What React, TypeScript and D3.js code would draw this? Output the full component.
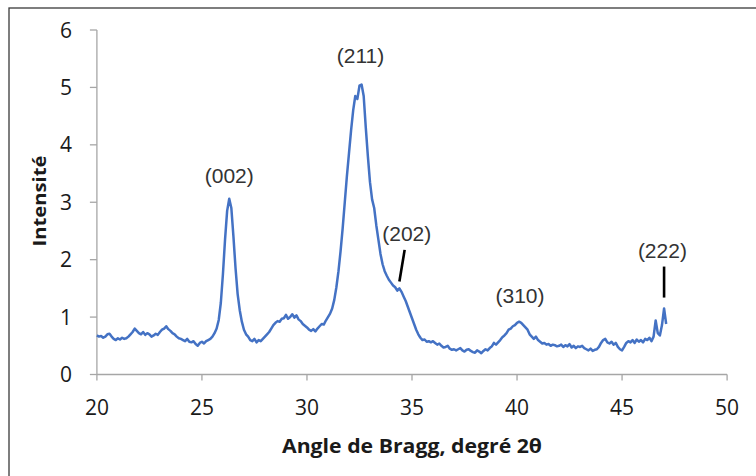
import React from "react";
import * as d3 from "d3";

// Sampling grid of the diffractogram (degrees 2θ)
const angleStart = 20.0;
const angleStep = 0.1;

// Intensities, one per 0.1° from 20.0° to 47.1°
const intensities: number[] = [
  // 20.0 - 20.9
  0.68, 0.66, 0.67, 0.64, 0.66, 0.70, 0.71, 0.66, 0.62, 0.60,
  // 21.0 - 21.9
  0.63, 0.61, 0.64, 0.62, 0.63, 0.66, 0.70, 0.74, 0.80, 0.76,
  // 22.0 - 22.9
  0.72, 0.70, 0.74, 0.69, 0.72, 0.70, 0.66, 0.68, 0.71, 0.69,
  // 23.0 - 23.9
  0.74, 0.78, 0.80, 0.84, 0.79, 0.76, 0.72, 0.70, 0.66, 0.63,
  // 24.0 - 24.9
  0.62, 0.60, 0.58, 0.62, 0.57, 0.56, 0.58, 0.53, 0.50, 0.55,
  // 25.0 - 25.9
  0.57, 0.54, 0.58, 0.60, 0.62, 0.66, 0.72, 0.80, 0.95, 1.25,
  // 26.0 - 26.9
  1.75, 2.35, 2.85, 3.06, 2.90, 2.40, 1.85, 1.40, 1.12, 0.92,
  // 27.0 - 27.9
  0.78, 0.70, 0.66, 0.60, 0.58, 0.62, 0.56, 0.60, 0.58, 0.62,
  // 28.0 - 28.9
  0.66, 0.70, 0.74, 0.80, 0.86, 0.90, 0.93, 0.92, 0.97, 0.98,
  // 29.0 - 29.9
  1.04, 0.97, 1.00, 1.05, 0.99, 1.03, 0.96, 0.93, 0.88, 0.85,
  // 30.0 - 30.9
  0.82, 0.78, 0.76, 0.79, 0.75, 0.80, 0.84, 0.88, 0.87, 0.94,
  // 31.0 - 31.9
  1.00, 1.06, 1.15, 1.30, 1.52, 1.80, 2.15, 2.55, 3.00, 3.45,
  // 32.0 - 32.9
  3.85, 4.25, 4.60, 4.85, 4.80, 5.03, 5.05, 4.85, 4.30, 3.80,
  // 33.0 - 33.9
  3.35, 3.05, 2.90, 2.60, 2.35, 2.10, 1.92, 1.80, 1.72, 1.65,
  // 34.0 - 34.9
  1.60, 1.55, 1.52, 1.46, 1.50, 1.44, 1.36, 1.28, 1.18, 1.08,
  // 35.0 - 35.9
  0.98, 0.88, 0.78, 0.70, 0.64, 0.60, 0.61, 0.57, 0.58, 0.56,
  // 36.0 - 36.9
  0.58, 0.55, 0.52, 0.54, 0.50, 0.47, 0.48, 0.50, 0.45, 0.43,
  // 37.0 - 37.9
  0.44, 0.42, 0.44, 0.46, 0.42, 0.40, 0.43, 0.44, 0.41, 0.39,
  // 38.0 - 38.9
  0.38, 0.42, 0.40, 0.37, 0.41, 0.44, 0.42, 0.46, 0.49, 0.55,
  // 39.0 - 39.9
  0.52, 0.56, 0.60, 0.65, 0.68, 0.72, 0.78, 0.80, 0.84, 0.86,
  // 40.0 - 40.9
  0.90, 0.92, 0.90, 0.86, 0.82, 0.78, 0.70, 0.66, 0.62, 0.66,
  // 41.0 - 41.9
  0.60, 0.57, 0.54, 0.55, 0.52, 0.53, 0.50, 0.52, 0.51, 0.49,
  // 42.0 - 42.9
  0.50, 0.52, 0.48, 0.51, 0.49, 0.53, 0.47, 0.50, 0.46, 0.49,
  // 43.0 - 43.9
  0.48, 0.50, 0.46, 0.44, 0.42, 0.45, 0.41, 0.43, 0.44, 0.48,
  // 44.0 - 44.9
  0.55, 0.60, 0.62, 0.56, 0.54, 0.57, 0.52, 0.55, 0.48, 0.44,
  // 45.0 - 45.9
  0.42, 0.48, 0.55, 0.58, 0.56, 0.60, 0.55, 0.61, 0.57, 0.60,
  // 46.0 - 46.9
  0.56, 0.62, 0.60, 0.64, 0.58, 0.66, 0.94, 0.72, 0.68, 0.86,
  // 47.0 - 47.1
  1.15, 0.88,
];

const xTicks = [20, 25, 30, 35, 40, 45, 50];
const yTicks = [0, 1, 2, 3, 4, 5, 6];

// Peak labels (Miller indices) and their anchor positions in data units
const peakLabels = ["(002)", "(211)", "(202)", "(310)", "(222)"];
const peakLabelX = [26.3, 32.55, 34.75, 40.14, 46.92];
const peakLabelY = [3.33, 5.42, 2.33, 1.245, 2.03];
// Leader lines [x1, y1, x2, y2] in data units ("(202)" and "(222)")
const leaderLines = [
  [34.65, 2.17, 34.4, 1.62],
  [47.0, 1.88, 47.0, 1.34],
];

const xTitle = "Angle de Bragg, degré 2θ";
const yTitle = "Intensité";

export default function App() {
  const W = 756;
  const H = 476;
  const x = d3.scaleLinear().domain([20, 50]).range([96.9, 727.1]);
  const y = d3.scaleLinear().domain([0, 6]).range([374.5, 30]);

  const pts: [number, number][] = intensities.map((v, i) => [
    angleStart + i * angleStep,
    v,
  ]);
  const line = d3
    .line<[number, number]>()
    .x((d) => x(d[0]))
    .y((d) => y(d[1]));

  const axisColor = "#a6a6a6";
  const tickFont = "'Open Sans', sans-serif";

  return (
    <svg
      width={W}
      height={H}
      style={{ position: "absolute", left: 0, top: 0, background: "#fff" }}
    >
      <rect x={0} y={0} width={W} height={H} fill="#fff" />
      <rect
        x={9}
        y={8}
        width={W + 10}
        height={H + 10}
        fill="none"
        stroke="#3a3a3a"
        strokeWidth={1.3}
      />
      {/* y axis */}
      <line x1={x(20)} x2={x(20)} y1={y(0)} y2={y(6)} stroke={axisColor} strokeWidth={1.3} />
      {yTicks.map((t) => (
        <g key={"y" + t}>
          <line x1={x(20) - 7} x2={x(20)} y1={y(t)} y2={y(t)} stroke={axisColor} strokeWidth={1.3} />
          <text
            x={72}
            y={y(t)}
            dy="0.36em"
            textAnchor="end"
            fontFamily={tickFont}
            fontSize={21}
            fill="#1a1a1a"
          >
            {t}
          </text>
        </g>
      ))}
      {/* x axis */}
      <line x1={x(20)} x2={x(50)} y1={y(0)} y2={y(0)} stroke={axisColor} strokeWidth={1.3} />
      {xTicks.map((t) => (
        <g key={"x" + t}>
          <line x1={x(t)} x2={x(t)} y1={y(0)} y2={y(0) + 6} stroke={axisColor} strokeWidth={1.3} />
          <text
            x={x(t)}
            y={407}
            dy="0.36em"
            textAnchor="middle"
            fontFamily={tickFont}
            fontSize={21}
            fill="#1a1a1a"
          >
            {t}
          </text>
        </g>
      ))}
      {/* axis titles */}
      <text
        x={412}
        y={453}
        textAnchor="middle"
        fontFamily={tickFont}
        fontWeight="bold"
        fontSize={19}
        fill="#1a1a1a"
        textLength={260}
        lengthAdjust="spacingAndGlyphs"
      >
        {xTitle}
      </text>
      <text
        transform={`translate(46,201) rotate(-90)`}
        textAnchor="middle"
        fontFamily={tickFont}
        fontWeight="bold"
        fontSize={18}
        fill="#1a1a1a"
        textLength={91}
        lengthAdjust="spacingAndGlyphs"
      >
        {yTitle}
      </text>
      {/* data */}
      <path d={line(pts) || ""} fill="none" stroke="#4472c4" strokeWidth={2.5} strokeLinejoin="round" />
      {/* peak labels */}
      {peakLabels.map((lab, i) => (
        <text
          key={lab}
          x={x(peakLabelX[i])}
          y={y(peakLabelY[i])}
          textAnchor="middle"
          fontFamily="'Liberation Sans', Arial, sans-serif"
          fontSize={21}
          fill="#333"
        >
          {lab}
        </text>
      ))}
      {leaderLines.map((l, i) => (
        <line
          key={"l" + i}
          x1={x(l[0])}
          y1={y(l[1])}
          x2={x(l[2])}
          y2={y(l[3])}
          stroke="#000"
          strokeWidth={2.6}
        />
      ))}
    </svg>
  );
}
